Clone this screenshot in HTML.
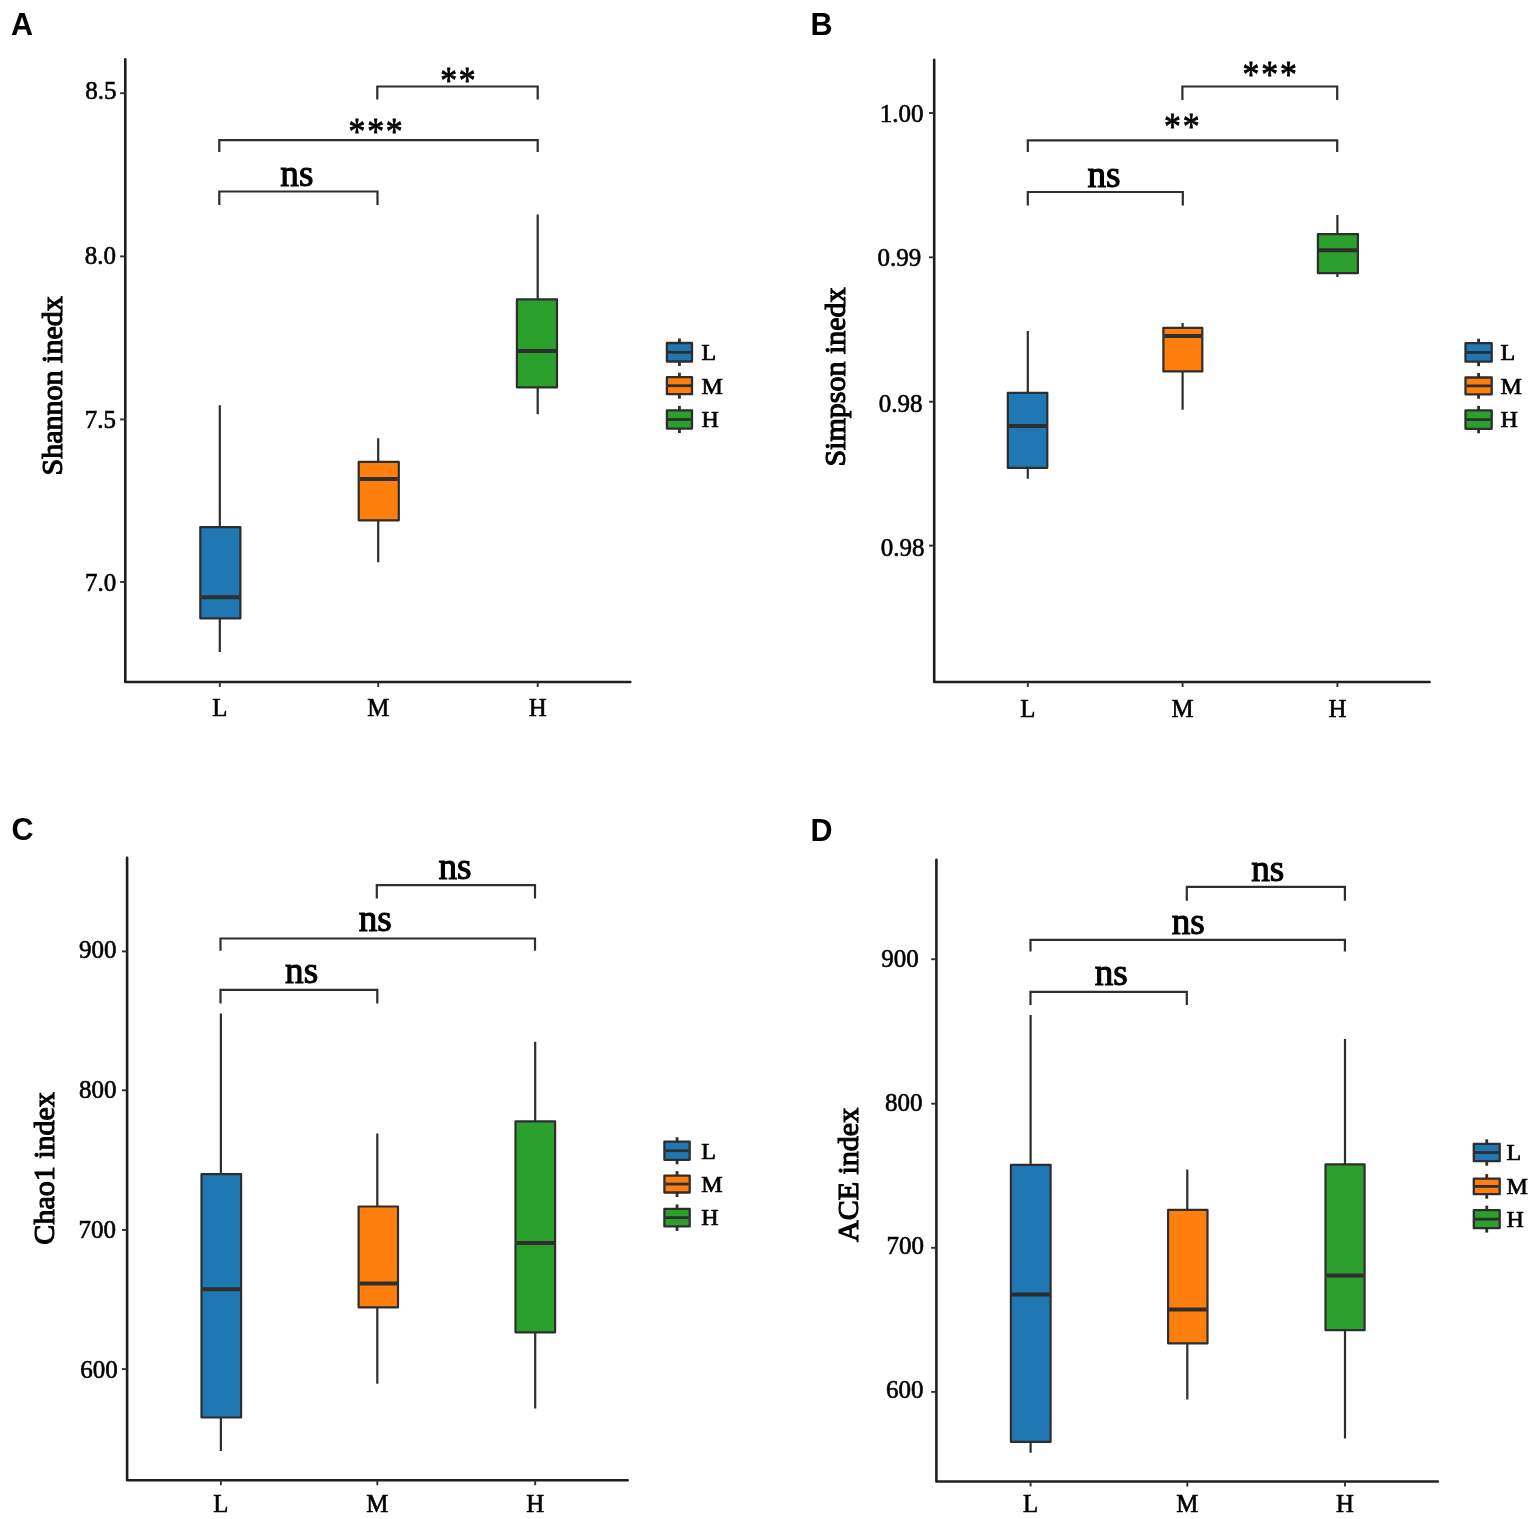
<!DOCTYPE html>
<html lang="en">
<head>
<meta charset="utf-8">
<title>Alpha diversity box plots</title>
<style>
html,body{margin:0;padding:0;background:#fff;}
body{width:1535px;height:1519px;overflow:hidden;}
svg{display:block;}
.lt{font-family:'Liberation Sans', Arial, sans-serif;font-weight:bold;font-size:30.5px;fill:#000;}
.tl{font-family:'Liberation Serif', 'Times New Roman', serif;font-size:25px;fill:#000;text-anchor:end;stroke:#000;stroke-width:0.6;}
.xl{font-family:'Liberation Serif', 'Times New Roman', serif;font-size:24.8px;fill:#000;text-anchor:middle;stroke:#000;stroke-width:0.6;}
.yt{font-family:'Liberation Serif', 'Times New Roman', serif;font-size:30px;fill:#000;text-anchor:middle;stroke:#000;stroke-width:1.1;}
.sg{font-family:'Liberation Serif', 'Times New Roman', serif;font-size:37.2px;fill:#000;text-anchor:middle;stroke:#000;stroke-width:1.1;}
.as{font-family:'Liberation Serif', 'Times New Roman', serif;font-size:37.5px;fill:#000;text-anchor:middle;stroke:#000;stroke-width:0.8;letter-spacing:2.0px;}
.lg{font-family:'Liberation Serif', 'Times New Roman', serif;font-size:24px;fill:#000;stroke:#000;stroke-width:0.7;}
.ax{fill:none;stroke:#1e1e1e;stroke-width:2.6;stroke-linecap:round;stroke-linejoin:round;}
.tk{fill:none;stroke:#303030;stroke-width:1.9;}
.wh{fill:none;stroke:#2e2e2e;stroke-width:2.2;}
.bx{stroke:#2e2e2e;stroke-width:2.2;stroke-linejoin:round;}
.md{fill:none;stroke:#2e2e2e;stroke-width:4;}
.br{fill:none;stroke:#2e2e2e;stroke-width:2.2;}
.lw{fill:none;stroke:#2e2e2e;stroke-width:2.8;}
.lb{stroke:#2e2e2e;stroke-width:2.3;stroke-linejoin:round;}
.lm{fill:none;stroke:#2e2e2e;stroke-width:2.8;}
</style>
</head>
<body>
<svg width="1535" height="1519" viewBox="0 0 1535 1519">
<rect width="1535" height="1519" fill="#fff"/>
<text x="11" y="34.5" class="lt">A</text>
<path d="M125.3 59.2V682H630.3" class="ax"/>
<path d="M120.1 93.2H125.3" class="tk"/>
<text x="116.4" y="99.4" class="tl">8.5</text>
<path d="M120.1 256.4H125.3" class="tk"/>
<text x="115.9" y="263.8" class="tl">8.0</text>
<path d="M120.1 419.4H125.3" class="tk"/>
<text x="116" y="427.8" class="tl">7.5</text>
<path d="M120.1 581.9H125.3" class="tk"/>
<text x="116.2" y="590.7" class="tl">7.0</text>
<path d="M219.8 682V687" class="tk"/>
<text x="219.8" y="716.4" class="xl">L</text>
<path d="M378.2 682V687" class="tk"/>
<text x="378.2" y="716.4" class="xl">M</text>
<path d="M537.7 682V687" class="tk"/>
<text x="537.7" y="716.4" class="xl">H</text>
<text transform="translate(61.8 385.8) rotate(-90)" x="0" y="0" class="yt">Shannon inedx</text>
<path d="M219.8 405.2V527.1M219.8 618.3V652" class="wh"/>
<rect x="200.3" y="527.1" width="40.1" height="91.2" fill="#1f77b4" class="bx"/>
<path d="M201.3 597.3H239.4" class="md"/>
<path d="M378.2 438.3V461.9M378.2 520.3V562.3" class="wh"/>
<rect x="358.7" y="461.9" width="40.1" height="58.4" fill="#ff7f0e" class="bx"/>
<path d="M359.7 479H397.8" class="md"/>
<path d="M537.7 214.6V299.4M537.7 387.3V414.2" class="wh"/>
<rect x="516.9" y="299.4" width="40.1" height="87.9" fill="#2ca02c" class="bx"/>
<path d="M517.9 351.1H556" class="md"/>
<path d="M377.3 99.5V86.5H537.7V99.5" class="br"/>
<text transform="translate(458.8 93.4) scale(0.9 1)" class="as">**</text>
<path d="M219.3 152V140.1H537.7V152" class="br"/>
<text transform="translate(376.5 143.7) scale(0.9 1)" class="as">***</text>
<path d="M219.3 205V191.5H377.5V205" class="br"/>
<text x="296.9" y="186" class="sg">ns</text>
<path d="M679.45 338.5V366" class="lw"/>
<rect x="666.9" y="343" width="25.1" height="18.5" fill="#1f77b4" class="lb"/>
<path d="M667.9 352.25H691" class="lm"/>
<text x="701.5" y="360.05" class="lg">L</text>
<path d="M679.45 372.7V398.7" class="lw"/>
<rect x="666.9" y="377.2" width="25.1" height="17" fill="#ff7f0e" class="lb"/>
<path d="M667.9 385.7H691" class="lm"/>
<text x="701.5" y="393.5" class="lg">M</text>
<path d="M679.45 405.9V433.1" class="lw"/>
<rect x="666.9" y="410.4" width="25.1" height="18.2" fill="#2ca02c" class="lb"/>
<path d="M667.9 419.5H691" class="lm"/>
<text x="701.5" y="427.3" class="lg">H</text>
<text x="810.6" y="34.5" class="lt">B</text>
<path d="M934.2 59.8V682H1429.6" class="ax"/>
<path d="M929 113H934.2" class="tk"/>
<text x="923.5" y="122.2" class="tl">1.00</text>
<path d="M929 257.3H934.2" class="tk"/>
<text x="921.3" y="265.8" class="tl">0.99</text>
<path d="M929 401.7H934.2" class="tk"/>
<text x="922.4" y="411.7" class="tl">0.98</text>
<path d="M929 545.6H934.2" class="tk"/>
<text x="924.5" y="555.7" class="tl">0.98</text>
<path d="M1027.8 682V687" class="tk"/>
<text x="1027.8" y="716.6" class="xl">L</text>
<path d="M1182.6 682V687" class="tk"/>
<text x="1182.6" y="716.6" class="xl">M</text>
<path d="M1337.4 682V687" class="tk"/>
<text x="1337.4" y="716.6" class="xl">H</text>
<text transform="translate(845.2 377) rotate(-90)" x="0" y="0" class="yt">Simpson inedx</text>
<path d="M1027.8 331.1V392.9M1027.8 467.8V478.8" class="wh"/>
<rect x="1007.8" y="392.9" width="39.5" height="74.9" fill="#1f77b4" class="bx"/>
<path d="M1008.8 425.9H1046.3" class="md"/>
<path d="M1182.6 323V327.8M1182.6 371.4V409.8" class="wh"/>
<rect x="1163.4" y="327.8" width="38.9" height="43.6" fill="#ff7f0e" class="bx"/>
<path d="M1164.4 336H1201.3" class="md"/>
<path d="M1337.4 214.9V234.2M1337.4 273.1V276.9" class="wh"/>
<rect x="1317.9" y="234.2" width="40" height="38.9" fill="#2ca02c" class="bx"/>
<path d="M1318.9 250.3H1356.9" class="md"/>
<path d="M1182.4 100V86.5H1337.2V100" class="br"/>
<text transform="translate(1270.6 86.9) scale(0.9 1)" class="as">***</text>
<path d="M1027.8 152.1V140.4H1337.2V152.1" class="br"/>
<text transform="translate(1182.7 139.4) scale(0.9 1)" class="as">**</text>
<path d="M1027.8 205.6V192H1182.8V205.6" class="br"/>
<text x="1104" y="186.6" class="sg">ns</text>
<path d="M1478.6 338.7V366.2" class="lw"/>
<rect x="1465.5" y="343.2" width="26.2" height="18.5" fill="#1f77b4" class="lb"/>
<path d="M1466.5 352.45H1490.7" class="lm"/>
<text x="1500.4" y="360.25" class="lg">L</text>
<path d="M1478.6 373V398.8" class="lw"/>
<rect x="1465.5" y="377.5" width="26.2" height="16.8" fill="#ff7f0e" class="lb"/>
<path d="M1466.5 385.9H1490.7" class="lm"/>
<text x="1500.4" y="393.7" class="lg">M</text>
<path d="M1478.6 405.9V433.3" class="lw"/>
<rect x="1465.5" y="410.4" width="26.2" height="18.4" fill="#2ca02c" class="lb"/>
<path d="M1466.5 419.6H1490.7" class="lm"/>
<text x="1500.4" y="427.4" class="lg">H</text>
<text x="11.6" y="840" class="lt">C</text>
<path d="M127.1 857.8V1480.2H627.7" class="ax"/>
<path d="M121.9 951.4H127.1" class="tk"/>
<text x="116.5" y="957.8" class="tl">900</text>
<path d="M121.9 1090.3H127.1" class="tk"/>
<text x="116.5" y="1098.3" class="tl">800</text>
<path d="M121.9 1230H127.1" class="tk"/>
<text x="116" y="1238.4" class="tl">700</text>
<path d="M121.9 1369.1H127.1" class="tk"/>
<text x="117.8" y="1378.1" class="tl">600</text>
<path d="M220.9 1480.2V1485.2" class="tk"/>
<text x="220.9" y="1512" class="xl">L</text>
<path d="M377.3 1480.2V1485.2" class="tk"/>
<text x="377.3" y="1512" class="xl">M</text>
<path d="M535.2 1480.2V1485.2" class="tk"/>
<text x="535.2" y="1512" class="xl">H</text>
<text transform="translate(53.8 1168.4) rotate(-90)" x="0" y="0" class="yt">Chao1 index</text>
<path d="M220.9 1013.6V1174.2M220.9 1417.5V1451" class="wh"/>
<rect x="201.5" y="1174.2" width="39.6" height="243.3" fill="#1f77b4" class="bx"/>
<path d="M202.5 1289.2H240.1" class="md"/>
<path d="M377.3 1133.4V1206.5M377.3 1307.3V1383.7" class="wh"/>
<rect x="358.6" y="1206.5" width="39.4" height="100.8" fill="#ff7f0e" class="bx"/>
<path d="M359.6 1283.4H397" class="md"/>
<path d="M535.2 1041.7V1121.3M535.2 1332.3V1408.5" class="wh"/>
<rect x="515.5" y="1121.3" width="39.6" height="211" fill="#2ca02c" class="bx"/>
<path d="M516.5 1243H554.1" class="md"/>
<path d="M376.8 898.6V885.1H535V898.6" class="br"/>
<text x="455" y="879.1" class="sg">ns</text>
<path d="M220.5 950.7V938.5H535V950.7" class="br"/>
<text x="375.2" y="931.2" class="sg">ns</text>
<path d="M220.5 1003.6V989.8H377.3V1003.6" class="br"/>
<text x="301.6" y="983.3" class="sg">ns</text>
<path d="M677.05 1137.2V1164.3" class="lw"/>
<rect x="664.4" y="1141.7" width="25.3" height="18.1" fill="#1f77b4" class="lb"/>
<path d="M665.4 1150.75H688.7" class="lm"/>
<text x="701.2" y="1158.55" class="lg">L</text>
<path d="M677.05 1171.1V1197" class="lw"/>
<rect x="664.4" y="1175.6" width="25.3" height="16.9" fill="#ff7f0e" class="lb"/>
<path d="M665.4 1184.05H688.7" class="lm"/>
<text x="701.2" y="1191.85" class="lg">M</text>
<path d="M677.05 1204.4V1230.9" class="lw"/>
<rect x="664.4" y="1208.9" width="25.3" height="17.5" fill="#2ca02c" class="lb"/>
<path d="M665.4 1217.65H688.7" class="lm"/>
<text x="701.2" y="1225.45" class="lg">H</text>
<text x="810.6" y="840.8" class="lt">D</text>
<path d="M936.4 859.8V1481.5H1437.9" class="ax"/>
<path d="M931.2 959.2H936.4" class="tk"/>
<text x="918.7" y="966.7" class="tl">900</text>
<path d="M931.2 1103.7H936.4" class="tk"/>
<text x="922.6" y="1110.8" class="tl">800</text>
<path d="M931.2 1247.8H936.4" class="tk"/>
<text x="924" y="1254.4" class="tl">700</text>
<path d="M931.2 1391.9H936.4" class="tk"/>
<text x="923.5" y="1397.8" class="tl">600</text>
<path d="M1030.6 1481.5V1486.5" class="tk"/>
<text x="1030.6" y="1512" class="xl">L</text>
<path d="M1187.3 1481.5V1486.5" class="tk"/>
<text x="1187.3" y="1512" class="xl">M</text>
<path d="M1345 1481.5V1486.5" class="tk"/>
<text x="1345" y="1512" class="xl">H</text>
<text transform="translate(858.3 1174.9) rotate(-90)" x="0" y="0" class="yt">ACE index</text>
<path d="M1030.6 1014.9V1164.8M1030.6 1441.8V1452.8" class="wh"/>
<rect x="1010.9" y="1164.8" width="39.7" height="277" fill="#1f77b4" class="bx"/>
<path d="M1011.9 1294.6H1049.6" class="md"/>
<path d="M1187.3 1169.4V1209.9M1187.3 1343.3V1399.4" class="wh"/>
<rect x="1168.1" y="1209.9" width="39.4" height="133.4" fill="#ff7f0e" class="bx"/>
<path d="M1169.1 1309.5H1206.5" class="md"/>
<path d="M1345 1039.1V1164.3M1345 1330.2V1438.5" class="wh"/>
<rect x="1325.5" y="1164.3" width="39.1" height="165.9" fill="#2ca02c" class="bx"/>
<path d="M1326.5 1275.6H1363.6" class="md"/>
<path d="M1186.8 900.7V886.9H1344.9V900.7" class="br"/>
<text x="1267.8" y="880.9" class="sg">ns</text>
<path d="M1030.5 951.5V939.8H1344.9V951.5" class="br"/>
<text x="1188.3" y="934.3" class="sg">ns</text>
<path d="M1030.5 1005V991.9H1186.8V1005" class="br"/>
<text x="1111.2" y="985.1" class="sg">ns</text>
<path d="M1486.75 1139.3V1165.7" class="lw"/>
<rect x="1473.8" y="1143.8" width="25.9" height="17.4" fill="#1f77b4" class="lb"/>
<path d="M1474.8 1152.5H1498.7" class="lm"/>
<text x="1506.6" y="1160.3" class="lg">L</text>
<path d="M1486.75 1174.1V1198.7" class="lw"/>
<rect x="1473.8" y="1178.6" width="25.9" height="15.6" fill="#ff7f0e" class="lb"/>
<path d="M1474.8 1186.4H1498.7" class="lm"/>
<text x="1506.6" y="1194.2" class="lg">M</text>
<path d="M1486.75 1205.7V1232.6" class="lw"/>
<rect x="1473.8" y="1210.2" width="25.9" height="17.9" fill="#2ca02c" class="lb"/>
<path d="M1474.8 1219.15H1498.7" class="lm"/>
<text x="1506.6" y="1226.95" class="lg">H</text>
</svg>
</body>
</html>
